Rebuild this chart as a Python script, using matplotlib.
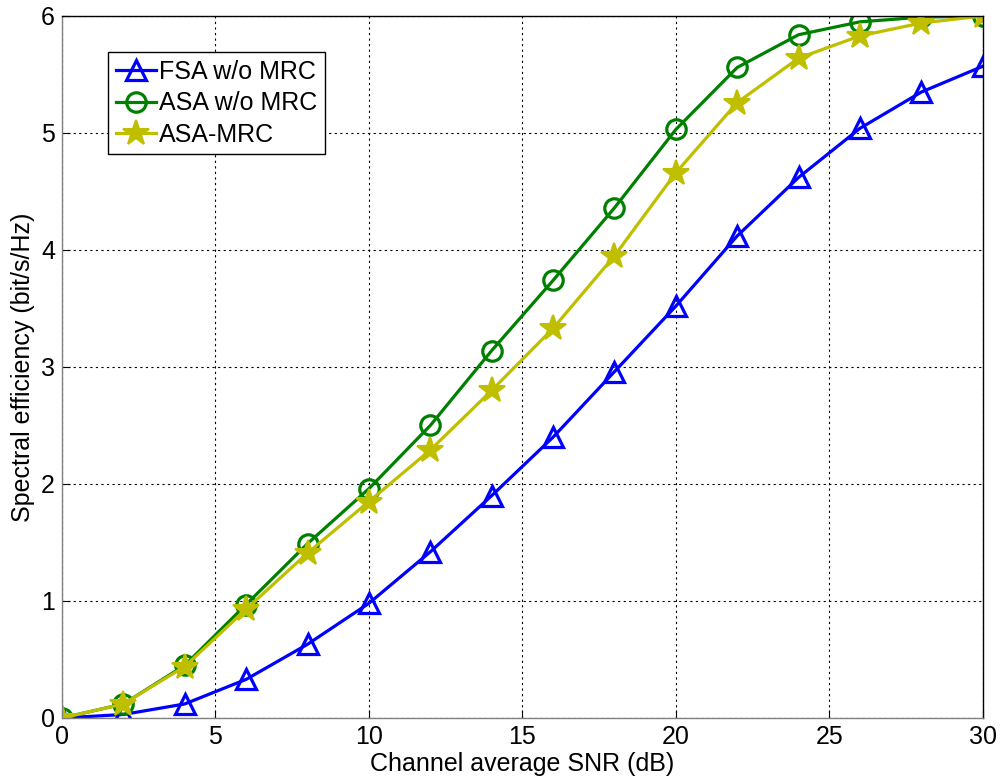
import matplotlib
matplotlib.use("Agg")
import matplotlib.pyplot as plt

plt.rcParams["font.family"] = ["Liberation Sans", "DejaVu Sans"]

snr_db = [0, 2, 4, 6, 8, 10, 12, 14, 16, 18, 20, 22, 24, 26, 28, 30]
fsa_no_mrc = [0.0, 0.03, 0.12, 0.33, 0.63, 0.98, 1.42, 1.90, 2.40, 2.96,
              3.52, 4.12, 4.62, 5.04, 5.35, 5.57]
asa_no_mrc = [0.0, 0.12, 0.45, 0.97, 1.49, 1.96, 2.50, 3.14, 3.74, 4.36,
              5.03, 5.56, 5.84, 5.95, 5.99, 6.0]
asa_mrc = [0.0, 0.12, 0.44, 0.93, 1.41, 1.85, 2.29, 2.80, 3.33, 3.95,
           4.66, 5.26, 5.64, 5.83, 5.94, 6.0]

fig = plt.figure(figsize=(10.03, 7.8), dpi=100)
ax = fig.add_axes([0.0618, 0.0795, 0.918, 0.900])

ax.plot(snr_db, fsa_no_mrc, color="#0000ff", lw=2.3, marker="^", ms=15,
        mfc="none", mew=2.3, label="FSA w/o MRC")
ax.plot(snr_db, asa_no_mrc, color="#008000", lw=2.3, marker="o", ms=14,
        mfc="none", mew=2.3, label="ASA w/o MRC")
ax.plot(snr_db, asa_mrc, color="#bfbf00", lw=2.3, marker="*", ms=19,
        mew=1.5, label="ASA-MRC")

ax.set_xlim(0, 30)
ax.set_ylim(0, 6)
ax.set_xticks(range(0, 31, 5))
ax.set_yticks(range(0, 7))
ax.tick_params(direction="in", labelsize=18, length=6, pad=5)
ax.grid(True, color="black", linestyle=(0, (2, 3)), linewidth=0.8)
for s in ax.spines.values():
    s.set_linewidth(1.0)
ax.spines["left"].set_color("#808080")
ax.spines["bottom"].set_color("#808080")

ax.set_xlabel("Channel average SNR (dB)", fontsize=18, labelpad=2)
ax.set_ylabel("Spectral efficiency (bit/s/Hz)", fontsize=18, labelpad=4)

leg = ax.legend(loc="upper left", bbox_to_anchor=(0.05, 0.948), fontsize=18,
                fancybox=False, edgecolor="black", framealpha=1,
                handlelength=1.6, borderpad=0.3, labelspacing=0.3,
                handletextpad=0.15, borderaxespad=0)
leg.get_frame().set_linewidth(1.0)

fig.savefig("out.png", dpi=100)
